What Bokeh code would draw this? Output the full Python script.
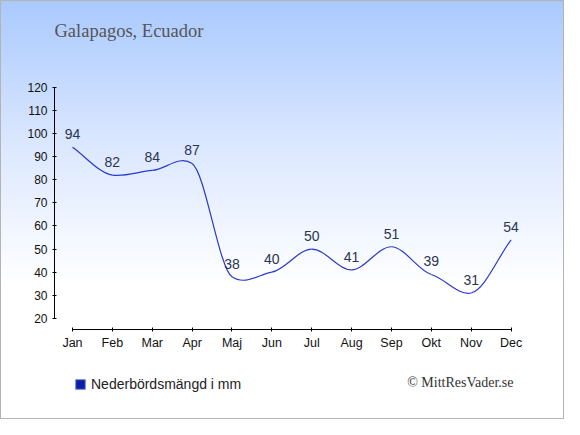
from bokeh.plotting import figure
from bokeh.layouts import column
from bokeh.models import (Range1d, FixedTicker, Label, Legend, LegendItem, ColumnDataSource)
from bokeh.core.properties import value
from bokeh.embed import file_html
from bokeh.resources import INLINE

months = ["Jan", "Feb", "Mar", "Apr", "Maj", "Jun", "Jul", "Aug", "Sep", "Okt", "Nov", "Dec"]
rain_mm = [94, 82, 84, 87, 38, 40, 50, 41, 51, 39, 31, 54]
y_ticks = [20, 30, 40, 50, 60, 70, 80, 90, 100, 110, 120]
title_text = "Galapagos, Ecuador"
legend_text = "Nederbördsmängd i mm"
credit_text = "© MittResVader.se"

n = len(months)
xs = list(range(n))

# smooth curve through the data points (cardinal spline, drawn as bezier segments)
tension = 0.5
slopes = []
for i in range(n):
    if i == 0:
        m = rain_mm[1] - rain_mm[0]
    elif i == n - 1:
        m = rain_mm[-1] - rain_mm[-2]
    else:
        m = tension * (rain_mm[i + 1] - rain_mm[i - 1]) / 2.0
    slopes.append(m)

seg = dict(x0=[], y0=[], x1=[], y1=[], cx0=[], cy0=[], cx1=[], cy1=[])
for i in range(n - 1):
    seg["x0"].append(xs[i]); seg["y0"].append(rain_mm[i])
    seg["x1"].append(xs[i + 1]); seg["y1"].append(rain_mm[i + 1])
    seg["cx0"].append(xs[i] + 1 / 3); seg["cy0"].append(rain_mm[i] + slopes[i] / 3)
    seg["cx1"].append(xs[i + 1] - 1 / 3); seg["cy1"].append(rain_mm[i + 1] - slopes[i + 1] / 3)

W = 564
H_MAIN, H_FOOT = 358, 61
BL, BR = 54, 34

p = figure(width=W, height=H_MAIN, output_backend="svg", toolbar_location=None,
           x_range=Range1d(-0.4515, 11.487), y_range=Range1d(15.2, 157.5),
           min_border_left=BL, min_border_right=BR, min_border_top=0, min_border_bottom=29)
p.background_fill_alpha = 0
p.border_fill_alpha = 0
p.outline_line_color = None
p.grid.visible = False

p.bezier(x0="x0", y0="y0", x1="x1", y1="y1", cx0="cx0", cy0="cy0", cx1="cx1", cy1="cy1",
         source=ColumnDataSource(seg), line_color="#2a3acc", line_width=1.2)

p.text(x=xs, y=rain_mm, text=[str(v) for v in rain_mm], text_align="center",
       text_baseline="alphabetic", y_offset=-13, text_font=value("Liberation Sans"),
       text_font_size="14px", text_color="#2b3550")

for ax in (p.xaxis[0], p.yaxis[0]):
    ax.axis_line_color = "#000000"
    ax.major_tick_line_color = "#000000"
    ax.major_tick_in = 2
    ax.major_tick_out = 2
    ax.minor_tick_line_color = None
    ax.major_label_text_font = "Liberation Sans"
    ax.major_label_text_color = "#111111"

p.yaxis[0].ticker = FixedTicker(ticks=y_ticks)
p.yaxis[0].bounds = (y_ticks[0], y_ticks[-1])
p.yaxis[0].major_label_text_font_size = "12px"
p.yaxis[0].major_label_standoff = 5

p.xaxis[0].ticker = FixedTicker(ticks=xs)
p.xaxis[0].bounds = (xs[0], xs[-1])
p.xaxis[0].major_label_overrides = {i: m for i, m in enumerate(months)}
p.xaxis[0].major_label_text_font_size = "12.5px"
p.xaxis[0].major_label_standoff = 4

p.add_layout(Label(x=0, y=299, x_units="screen", y_units="screen", text=title_text,
                   text_font="Liberation Serif", text_font_size="18.5px", text_color="#555555",
                   text_baseline="alphabetic"))

# footer: legend and credit (frame aligned with the chart above)
f = figure(width=W, height=H_FOOT, output_backend="svg", toolbar_location=None,
           x_axis_type=None, y_axis_type=None, x_range=Range1d(0, 1), y_range=Range1d(0, 1),
           min_border_left=BL, min_border_right=BR, min_border_top=0, min_border_bottom=0)
f.background_fill_alpha = 0
f.border_fill_alpha = 0
f.outline_line_color = None
f.grid.visible = False

# legend swatch renderer (kept outside the visible range; only its legend entry shows)
sq = f.quad(left=[-3], right=[-2], top=[-2], bottom=[-3], fill_color="#0a1ea8", line_color="#7888d0")
legend = Legend(items=[LegendItem(label=legend_text, renderers=[sq])],
                location=(20, 27), orientation="horizontal",
                label_text_font="Liberation Sans", label_text_font_size="14px",
                label_text_color="#222222", glyph_width=12, glyph_height=12,
                border_line_alpha=0, background_fill_alpha=0, padding=0, margin=0,
                label_standoff=5)
f.add_layout(legend)
f.add_layout(Label(x=513 - BL, y=37, x_units="screen", y_units="screen", text=credit_text,
                   text_font="Liberation Serif", text_font_size="14px", text_color="#333333",
                   text_align="right", text_baseline="alphabetic"))

layout = column(p, f, spacing=0)
layout.styles = {"background": "linear-gradient(to bottom, #a9c9fe 0%, #dce8ff 35%, #ffffff 68%)",
                 "outline": "1px solid #b4b4b4", "outline-offset": "-1px"}

open("out.html", "w").write(file_html(layout, INLINE))
